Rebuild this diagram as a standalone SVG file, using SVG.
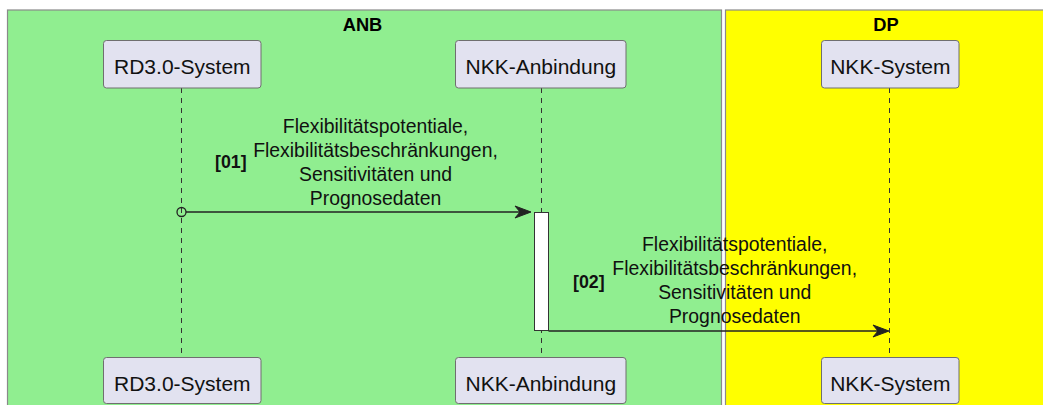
<svg xmlns="http://www.w3.org/2000/svg" width="1043" height="405" viewBox="0 0 1043 405">
  <style>
    .lane { stroke: #8a8a8a; stroke-width: 1.2; }
    .lane-title { font-family: "Liberation Sans", Arial, sans-serif; font-size: 18.3px; font-weight: bold; fill: #000; text-anchor: middle; }
    .part rect { fill: #E2E2F0; stroke: #6f6f6f; stroke-width: 1; }
    .part text { font-family: "Liberation Sans", Arial, sans-serif; font-size: 21px; fill: #111; text-anchor: middle; }
    .life { stroke: #333; stroke-width: 1; stroke-dasharray: 5 5; fill: none; }
    .msg { stroke: #222; stroke-width: 1.3; fill: none; }
    .head { fill: #222; stroke: #222; stroke-width: 1; }
    .lbl { font-family: "Liberation Sans", Arial, sans-serif; font-size: 19.4px; fill: #111; text-anchor: middle; }
    .num { font-family: "Liberation Sans", Arial, sans-serif; font-size: 17.8px; font-weight: bold; fill: #111; }
  </style>

  <rect width="1043" height="405" fill="#ffffff"/>

  <!-- swimlane boxes -->
  <g id="lane-anb">
    <rect class="lane" x="7.5" y="10" width="714" height="400" fill="#90EE90"/>
    <text class="lane-title" x="362.5" y="30.5">ANB</text>
  </g>
  <g id="lane-dp">
    <rect class="lane" x="725.5" y="10" width="330" height="400" fill="#FFFF00"/>
    <text class="lane-title" x="886" y="30.5">DP</text>
  </g>

  <!-- lifelines -->
  <g id="lifelines">
    <line class="life" x1="181.5" y1="88" x2="181.5" y2="357"/>
    <line class="life" x1="541.5" y1="88" x2="541.5" y2="357"/>
    <line class="life" x1="889.5" y1="88" x2="889.5" y2="357"/>
  </g>

  <!-- participants (top) -->
  <g id="rd30-top" class="part">
    <rect x="103.5" y="40.5" width="157.5" height="47.5" rx="3"/>
    <text x="182.3" y="74">RD3.0-System</text>
  </g>
  <g id="nkk-anbindung-top" class="part">
    <rect x="455.5" y="40.5" width="170.5" height="47.5" rx="3"/>
    <text x="540.8" y="74">NKK-Anbindung</text>
  </g>
  <g id="nkk-system-top" class="part">
    <rect x="821.5" y="40.5" width="137.5" height="47.5" rx="3"/>
    <text x="890.3" y="74">NKK-System</text>
  </g>

  <!-- activation bar -->
  <g id="activation">
    <rect x="534.5" y="212.5" width="14" height="118" fill="#ffffff" stroke="#333" stroke-width="1"/>
  </g>

  <!-- messages -->
  <g id="connectors">
    <circle cx="181.5" cy="212" r="4.5" fill="none" stroke="#222" stroke-width="1.3"/>
    <line class="msg" x1="186" y1="212" x2="529" y2="212"/>
    <polygon class="head" points="531,212 515,206 520,212 515,218"/>

    <line class="msg" x1="548.5" y1="331" x2="887" y2="331"/>
    <polygon class="head" points="889,331 873,325 878,331 873,337"/>
  </g>

  <!-- message labels -->
  <g id="label-01">
    <text class="num" x="215" y="168.3">[01]</text>
    <text class="lbl" x="375.5" y="132.7">Flexibilitätspotentiale,</text>
    <text class="lbl" x="375.5" y="157">Flexibilitätsbeschränkungen,</text>
    <text class="lbl" x="375.5" y="181">Sensitivitäten und</text>
    <text class="lbl" x="375.5" y="204.5">Prognosedaten</text>
  </g>
  <g id="label-02">
    <text class="num" x="573" y="288.3">[02]</text>
    <text class="lbl" x="734.7" y="251">Flexibilitätspotentiale,</text>
    <text class="lbl" x="734.7" y="275">Flexibilitätsbeschränkungen,</text>
    <text class="lbl" x="734.7" y="299">Sensitivitäten und</text>
    <text class="lbl" x="734.7" y="323.3">Prognosedaten</text>
  </g>

  <!-- participants (bottom) -->
  <g id="rd30-bottom" class="part">
    <rect x="103.5" y="357.5" width="157.5" height="46" rx="3"/>
    <text x="182.3" y="391">RD3.0-System</text>
  </g>
  <g id="nkk-anbindung-bottom" class="part">
    <rect x="455.5" y="357.5" width="170.5" height="46" rx="3"/>
    <text x="540.8" y="391">NKK-Anbindung</text>
  </g>
  <g id="nkk-system-bottom" class="part">
    <rect x="821.5" y="357.5" width="137.5" height="46" rx="3"/>
    <text x="890.3" y="391">NKK-System</text>
  </g>
</svg>
